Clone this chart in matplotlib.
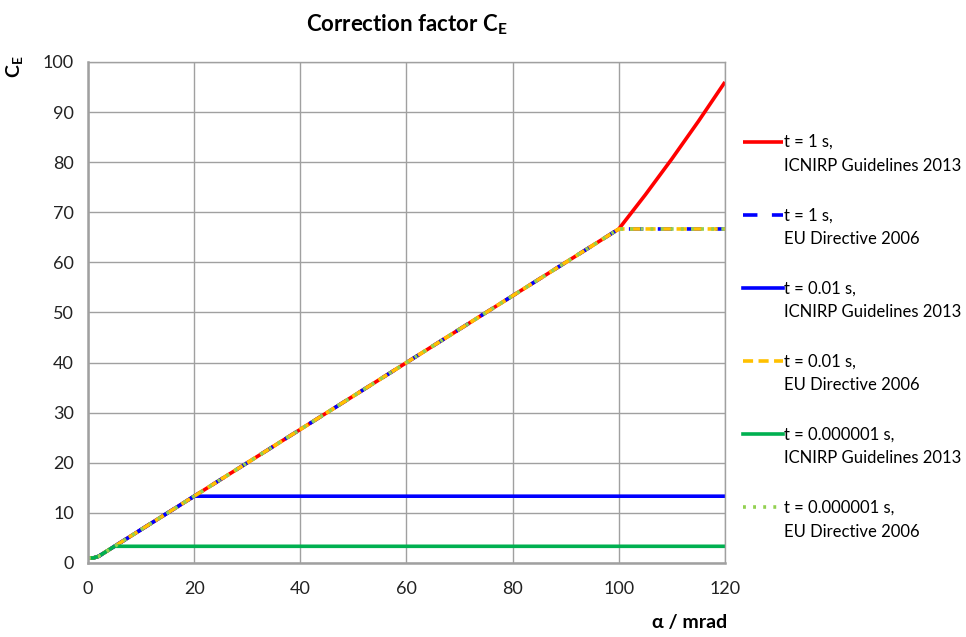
import matplotlib.pyplot as plt
from matplotlib.legend_handler import HandlerLine2D

plt.rcParams['font.family'] = ['Lato', 'DejaVu Sans']

# alpha in mrad, C_E values
alpha_low = [0, 1, 2, 3, 4, 5]
ce_low = [1, 1, 1.33, 2, 2.67, 3.33]

icnirp_1s_x = alpha_low + [20, 100, 105, 110, 115, 120]
icnirp_1s_y = ce_low + [13.33, 66.67, 73.5, 80.67, 88.17, 96]

eu_x = alpha_low + [20, 100, 120]
eu_y = ce_low + [13.33, 66.67, 66.67]

icnirp_001s_x = alpha_low + [20, 120]
icnirp_001s_y = ce_low + [13.33, 13.33]

icnirp_1us_x = alpha_low + [120]
icnirp_1us_y = ce_low + [3.33]

labels = ["t = 1 s,\nICNIRP Guidelines 2013",
          "t = 1 s,\nEU Directive 2006",
          "t = 0.01 s,\nICNIRP Guidelines 2013",
          "t = 0.01 s,\nEU Directive 2006",
          "t = 0.000001 s,\nICNIRP Guidelines 2013",
          "t = 0.000001 s,\nEU Directive 2006"]


# puts the legend line next to the first text line, like Excel does
class TopLineHandler(HandlerLine2D):
    def create_artists(self, legend, orig_handle, xdescent, ydescent,
                       width, height, fontsize, trans):
        artists = super().create_artists(legend, orig_handle, xdescent, ydescent,
                                         width, height, fontsize, trans)
        for a in artists:
            a.set_ydata([y + 0.78 * fontsize for y in a.get_ydata()])
        return artists


fig = plt.figure(figsize=(9.66, 6.37), dpi=100)
ax = fig.add_axes([0.0911, 0.1162, 0.6594, 0.7865])

lw = 2.6
l1, = ax.plot(icnirp_1s_x, icnirp_1s_y, color='#FF0000', lw=lw, solid_capstyle='butt')
l2, = ax.plot(eu_x, eu_y, color='#0000FF', lw=lw, dashes=(4, 4))
l3, = ax.plot(icnirp_001s_x, icnirp_001s_y, color='#0000FF', lw=lw)
l4, = ax.plot(eu_x, eu_y, color='#FFC000', lw=lw, dashes=(2.8, 1.5))
l5, = ax.plot(icnirp_1us_x, icnirp_1us_y, color='#00B050', lw=lw)
l6, = ax.plot(eu_x, eu_y, color='#92D050', lw=lw, linestyle=(0, (0.8, 2.0)))

ax.set_xlim(0, 120)
ax.set_ylim(0, 100)
ax.set_xticks(range(0, 121, 20))
ax.set_yticks(range(0, 101, 10))
ax.grid(True, color='#A0A0A0', lw=1)
ax.set_axisbelow(True)
ax.tick_params(length=0, labelsize=13, labelcolor='#222222')
ax.tick_params(axis='x', pad=13)
ax.tick_params(axis='y', pad=10)
for s in ax.spines.values():
    s.set_color('#A0A0A0')
    s.set_linewidth(1)
ax.spines['left'].set_linewidth(1.8)
ax.spines['bottom'].set_linewidth(1.8)

ax.set_title('Correction factor C$_\\mathregular{E}$', fontsize=16,
             fontweight='bold', pad=22)
fig.text(0.016, 0.895, 'C$_\\mathregular{E}$', rotation=90, fontsize=14,
         fontweight='bold', ha='center', va='center')
fig.text(0.714, 0.023, 'α / mrad', fontsize=14, fontweight='bold',
         ha='center', va='center')

leg = ax.legend([l1, l2, l3, l4, l5, l6], labels, loc='upper left',
                bbox_to_anchor=(0.762, 0.8), bbox_transform=fig.transFigure,
                frameon=False, fontsize=12, handlelength=2.4, handletextpad=0.1,
                labelspacing=2.0, borderaxespad=0,
                handler_map={l: TopLineHandler() for l in [l1, l2, l3, l4, l5, l6]})
for t in leg.get_texts():
    t.set_linespacing(1.6)

fig.savefig('out.png', dpi=100)
